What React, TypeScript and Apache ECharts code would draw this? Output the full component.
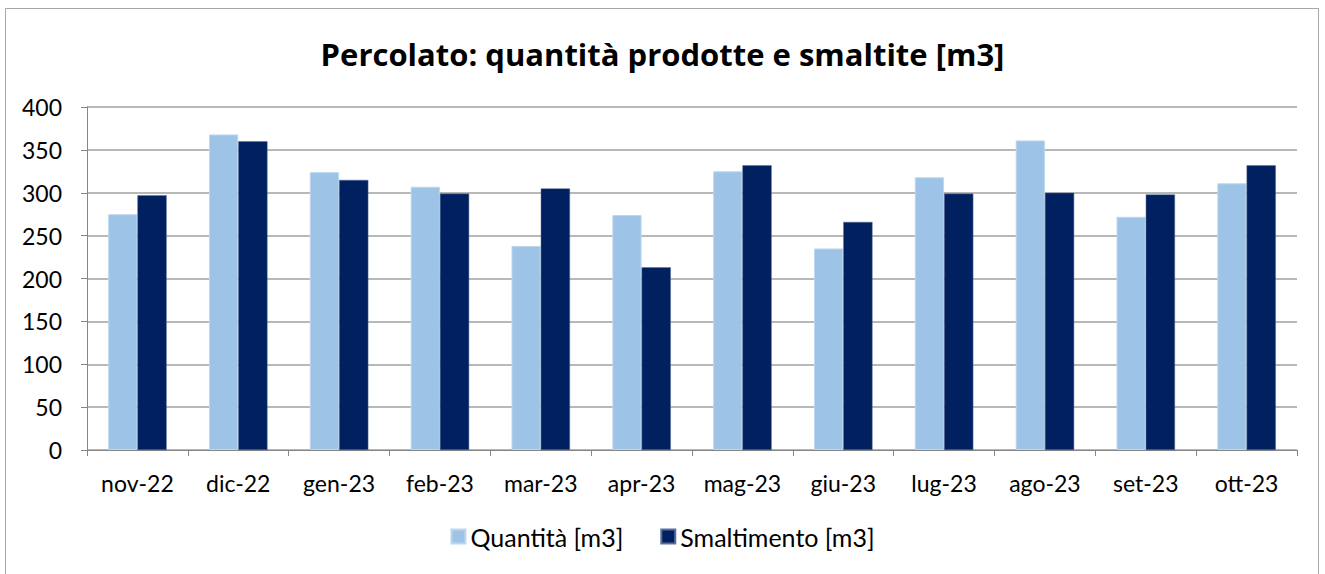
import React, { useEffect, useRef } from "react";
import * as echarts from "echarts";

const categories = ["nov-22", "dic-22", "gen-23", "feb-23", "mar-23", "apr-23", "mag-23", "giu-23", "lug-23", "ago-23", "set-23", "ott-23"];
const quantita = [275, 368, 324, 307, 238, 274, 325, 235, 318, 361, 272, 311];
const smaltimento = [297, 360, 315, 299, 305, 213, 332, 266, 299, 300, 298, 332];
const titleText = "Percolato: quantità prodotte e smaltite [m3]";
const seriesNames = ["Quantità [m3]", "Smaltimento [m3]"];

const FONT = "Lato, 'Open Sans', sans-serif";
const TITLE_FONT = "'Open Sans', sans-serif";

export default function App() {
  const ref = useRef<HTMLDivElement>(null);
  useEffect(() => {
    document.body.style.margin = "0";
    const chart = echarts.init(ref.current!, null, { renderer: "svg" });
    chart.setOption({
      animation: false,
      backgroundColor: "#ffffff",
      textStyle: { fontFamily: FONT },
      title: {
        text: titleText,
        left: "center",
        top: 33,
        textStyle: { fontSize: 31, fontWeight: "bold", color: "#000", fontFamily: TITLE_FONT },
      },
      graphic: [
        {
          type: "rect",
          shape: { x: 5.5, y: 8.5, width: 1313, height: 580 },
          style: { fill: "none", stroke: "#a6a6a6", lineWidth: 1 },
          silent: true,
        },
      ],
      legend: {
        bottom: 20,
        left: "center",
        itemWidth: 14,
        itemHeight: 14,
        itemGap: 37,
        icon: "rect",
        textStyle: { fontSize: 25, color: "#000", fontFamily: FONT },
        data: seriesNames,
      },
      grid: { left: 87, right: 28, top: 107, bottom: 124, containLabel: false },
      xAxis: {
        type: "category",
        data: categories,
        axisLine: { lineStyle: { color: "#868686" } },
        axisTick: { show: true, length: 6, lineStyle: { color: "#868686" } },
        axisLabel: { fontSize: 23, color: "#000", margin: 21, fontFamily: FONT },
      },
      yAxis: {
        type: "value",
        min: 0,
        max: 400,
        interval: 50,
        axisLine: { show: true, lineStyle: { color: "#868686" } },
        axisTick: { show: true, length: 6, lineStyle: { color: "#868686" } },
        splitLine: { lineStyle: { color: "#a0a0a0", width: 1.5 } },
        axisLabel: { fontSize: 23, color: "#000", margin: 25, fontFamily: FONT },
      },
      series: [
        {
          name: seriesNames[0],
          type: "bar",
          data: quantita,
          barGap: "0%",
          barCategoryGap: "42%",
          itemStyle: { color: "#9dc3e6", borderColor: "#bdd7ee", borderWidth: 1 },
        },
        {
          name: seriesNames[1],
          type: "bar",
          data: smaltimento,
          itemStyle: { color: "#002060", borderColor: "#5a6f99", borderWidth: 0.5 },
        },
      ],
    });
    return () => chart.dispose();
  }, []);
  return <div ref={ref} style={{ position: "absolute", left: 0, top: 0, width: 1325, height: 574 }} />;
}
